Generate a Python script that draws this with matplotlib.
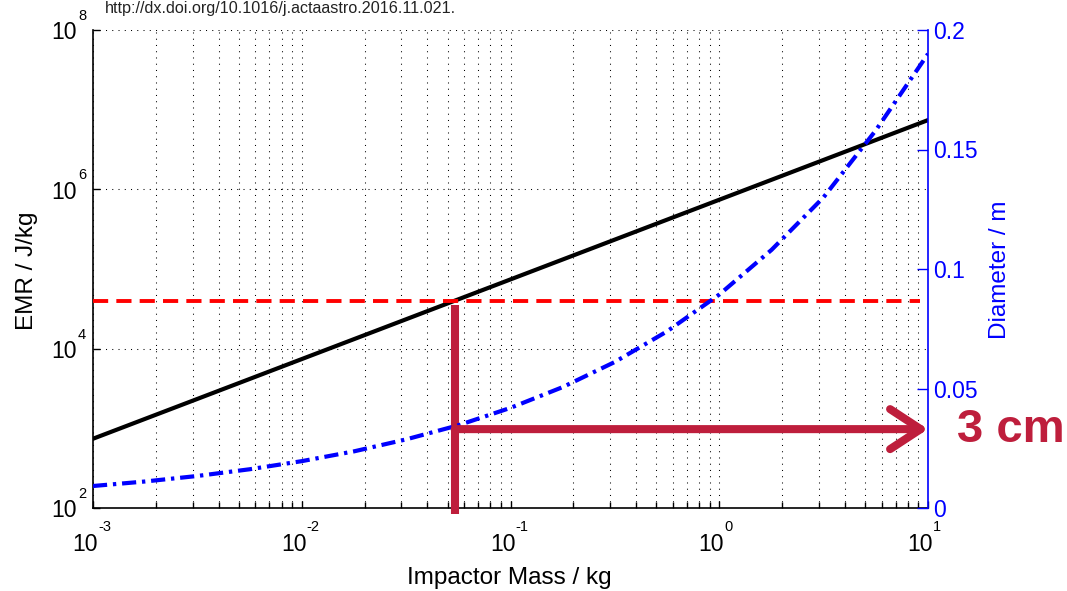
import matplotlib
matplotlib.use('Agg')
from matplotlib import pyplot as plt
import matplotlib.ticker as mticker

plt.rcParams['font.family'] = ['Liberation Sans', 'DejaVu Sans']

# EMR line (straight on log-log), read at both ends
emr_mass = [1e-3, 1e1]
emr_values = [740, 7.4e6]

# diameter curve
diam_mass = [0.001, 0.00178, 0.00316, 0.00562, 0.01, 0.0178, 0.0316, 0.0562,
             0.1, 0.178, 0.316, 0.562, 1.0, 1.78, 3.16, 5.62, 10.0]
diam_values = [0.0092, 0.0111, 0.0134, 0.0162, 0.0196, 0.0237, 0.0287, 0.0346,
               0.0419, 0.0506, 0.0611, 0.0739, 0.0893, 0.108, 0.130, 0.158, 0.190]

threshold_emr = 4.0e4      # red dashed line
cut_mass = 0.054           # mass where EMR hits threshold
cut_diam = 0.033           # diameter at that mass
x_exps = [-3, -2, -1, 0, 1]
y_exps = [2, 4, 6, 8]
d_ticks = [0, 0.05, 0.1, 0.15, 0.2]

crimson = '#BE1E3C'

fig = plt.figure(figsize=(10.67, 5.91), dpi=100)
ax = fig.add_axes([93 / 1067, 1 - 508 / 591, 835 / 1067, 478 / 591])
ax.set_xscale('log')
ax.set_yscale('log')
ax.set_xlim(1e-3, 1e1)
ax.set_ylim(1e2, 1e8)

# grid: dotted, vertical at major + minor, horizontal at every 2nd decade
ax.xaxis.set_major_locator(mticker.FixedLocator([10.0 ** e for e in x_exps]))
ax.xaxis.set_minor_locator(mticker.LogLocator(base=10, subs=range(2, 10), numticks=20))
ax.yaxis.set_major_locator(mticker.FixedLocator([10.0 ** e for e in y_exps]))
ax.yaxis.set_minor_locator(mticker.NullLocator())
ax.xaxis.set_major_formatter(mticker.NullFormatter())
ax.xaxis.set_minor_formatter(mticker.NullFormatter())
ax.yaxis.set_major_formatter(mticker.NullFormatter())
ax.grid(True, which='both', axis='x', color='black', linestyle=(0, (1, 5)), lw=0.75)
ax.grid(True, which='major', axis='y', color='black', linestyle=(0, (1, 5)), lw=0.75)
ax.tick_params(which='major', direction='in', length=5, width=1, top=False, right=False)
ax.tick_params(which='minor', direction='in', length=4, width=1, top=False, right=False)
ax.spines['top'].set_visible(False)
ax.spines['right'].set_visible(False)
ax.spines['left'].set_linewidth(1.2)
ax.spines['bottom'].set_linewidth(1.2)

ax.plot(emr_mass, emr_values, color='black', lw=3, zorder=3)
ax.axhline(threshold_emr, xmin=0, xmax=0.99, color='red', lw=2.8,
           linestyle=(0, (3.9, 2.1)), zorder=3)

# MATLAB-like tick labels: "10" with raised exponent
for e in x_exps:
    ax.annotate('10', xy=(10.0 ** e, 0), xycoords=('data', 'axes fraction'),
                xytext=(3.6, -26.6), textcoords='offset points',
                ha='right', va='center', fontsize=16.5)
    ax.annotate(str(e), xy=(10.0 ** e, 0), xycoords=('data', 'axes fraction'),
                xytext=(3.6, -13.7), textcoords='offset points',
                ha='left', va='center', fontsize=10.5)
for e in y_exps:
    ax.annotate('10', xy=(0, 10.0 ** e), xycoords=('axes fraction', 'data'),
                xytext=(-11.5, -2), textcoords='offset points',
                ha='right', va='center', fontsize=16.5)
    ax.annotate(str(e), xy=(0, 10.0 ** e), xycoords=('axes fraction', 'data'),
                xytext=(-10.8, 10), textcoords='offset points',
                ha='left', va='center', fontsize=10.5)

# right axis: diameter
ax2 = ax.twinx()
ax2.set_ylim(0, 0.2)
ax2.set_yticks(d_ticks)
ax2.set_yticklabels(['0', '0.05', '0.1', '0.15', '0.2'])
ax2.tick_params(axis='y', direction='in', length=8, width=1, colors='blue',
                labelsize=16.5, pad=4)
for side in ('top', 'left', 'bottom'):
    ax2.spines[side].set_visible(False)
ax2.spines['right'].set_color('blue')
ax2.spines['right'].set_linewidth(1.2)
ax2.plot(diam_mass, diam_values, color='blue', lw=3,
         linestyle=(0, (3.4, 1.4, 0.8, 1.4)), zorder=3)

# crimson marker: vertical bar + arrow to the diameter axis
ax.plot([cut_mass, cut_mass], [3.5e4, 84], color=crimson, lw=5.8,
        solid_capstyle='butt', clip_on=False, zorder=4)
ax2.annotate('', xy=(10, cut_diam), xytext=(cut_mass, cut_diam),
             arrowprops=dict(arrowstyle='->,head_length=1.1,head_width=0.72',
                             color=crimson, lw=5.8, shrinkA=0, shrinkB=0,
                             mutation_scale=20, capstyle='round',
                             joinstyle='round'),
             annotation_clip=False, zorder=5)
fig.text(957 / 1067, 1 - 430 / 591, '3 cm', color=crimson, fontsize=34,
         fontweight='bold', ha='left', va='center')

# axis labels and source note
fig.text(509 / 1067, 1 - 578 / 591, 'Impactor Mass / kg', fontsize=17.5,
         ha='center', va='center')
fig.text(27 / 1067, 1 - 271 / 591, 'EMR / J/kg', fontsize=17.5, rotation=90,
         ha='center', va='center')
fig.text(1000 / 1067, 1 - 270 / 591, 'Diameter / m', fontsize=17.5, rotation=90,
         ha='center', va='center', color='blue')
fig.text(105 / 1067, 1 - 9 / 591, 'http://dx.doi.org/10.1016/j.actaastro.2016.11.021.',
         fontsize=11.6, color='#222222', ha='left', va='center')

fig.savefig('out.png', dpi=100)
